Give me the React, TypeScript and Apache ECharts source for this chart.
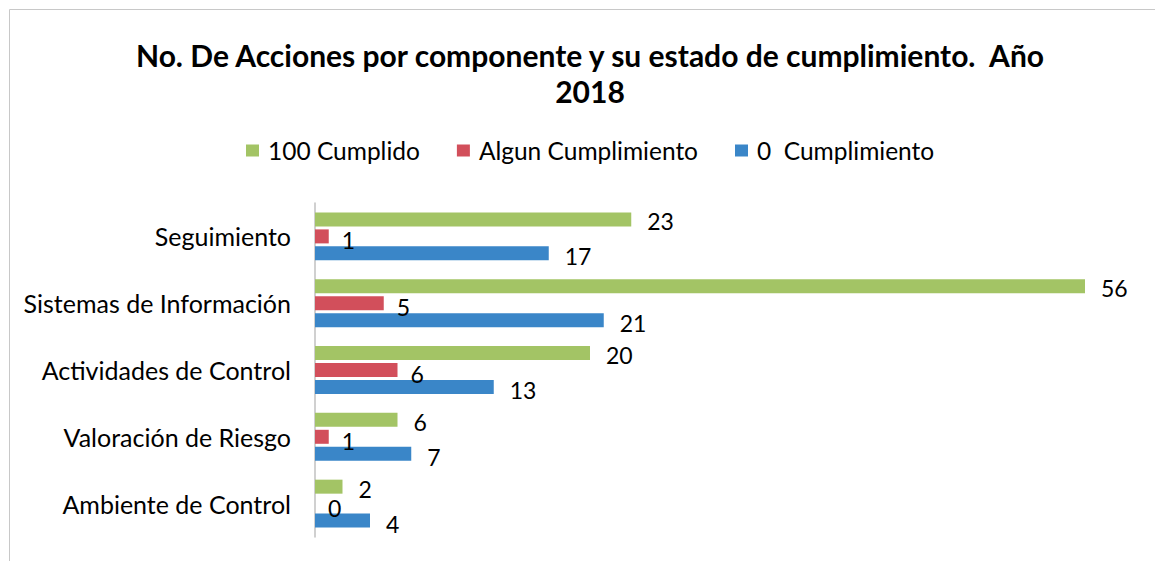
import React, { useEffect, useRef } from "react";
import * as echarts from "echarts";

const categories = [
  "Ambiente de Control",
  "Valoración de Riesgo",
  "Actividades de Control",
  "Sistemas de Información",
  "Seguimiento",
];
const cumplido100 = [2, 6, 20, 56, 23];
const algunCumplimiento = [0, 1, 6, 5, 1];
const ceroCumplimiento = [4, 7, 13, 21, 17];
const seriesNames = ["100 Cumplido", "Algun Cumplimiento", "0  Cumplimiento"];
const titleText = "No. De Acciones por componente y su estado de cumplimiento.  Año\n2018";

const FONT = "Lato, 'Open Sans', sans-serif";

export default function App() {
  const ref = useRef<HTMLDivElement>(null);
  useEffect(() => {
    if (!ref.current) return;
    const chart = echarts.init(ref.current, null, { renderer: "svg" });
    const labelBase = {
      show: true,
      position: "right" as const,
      distance: 16,
      color: "#000",
      fontSize: 23,
      fontFamily: FONT,
    };
    chart.setOption({
      animation: false,
      backgroundColor: "#fff",
      title: {
        text: titleText,
        left: 585,
        textAlign: "center",
        top: 32,
        textStyle: {
          fontFamily: FONT,
          fontSize: 30,
          fontWeight: "bold",
          color: "#000",
          lineHeight: 36,
        },
      },
      legend: {
        data: seriesNames,
        top: 133,
        left: 241,
        icon: "rect",
        itemWidth: 13,
        itemHeight: 12,
        itemGap: 37,
        textStyle: { fontFamily: FONT, fontSize: 24.5, color: "#000", padding: [0, 0, 0, 4] },
      },
      graphic: [
        {
          type: "rect",
          shape: { x: 9.5, y: 9.5, width: 1200, height: 600 },
          style: { fill: "none", stroke: "#c8c8c8", lineWidth: 1 },
          silent: true,
        },
      ],
      grid: { left: 315, top: 203, height: 334, right: 15, containLabel: false },
      xAxis: {
        type: "value",
        min: 0,
        max: 60,
        show: false,
        splitLine: { show: false },
      },
      yAxis: {
        type: "category",
        data: categories,
        axisLine: { show: true, lineStyle: { color: "#c0c0c0", width: 1.5 } },
        axisTick: { show: false },
        axisLabel: {
          fontFamily: FONT,
          fontSize: 25,
          color: "#000",
          margin: 24,
        },
      },
      series: [
        {
          name: seriesNames[0],
          type: "bar",
          data: cumplido100,
          barWidth: 14,
          barGap: "21%",
          barCategoryGap: "28%",
          itemStyle: { color: "#a3c465" },
          label: { ...labelBase, offset: [0, 2] },
        },
        {
          name: seriesNames[1],
          type: "bar",
          data: algunCumplimiento,
          barWidth: 14,
          barGap: "21%",
          itemStyle: { color: "#d24f5b" },
          label: { ...labelBase, distance: 13, offset: [0, 4] },
        },
        {
          name: seriesNames[2],
          type: "bar",
          data: ceroCumplimiento,
          barWidth: 14,
          barGap: "21%",
          itemStyle: { color: "#3a86c8" },
          label: { ...labelBase, offset: [0, 3] },
        },
      ],
    });
    return () => chart.dispose();
  }, []);
  return (
    <div
      ref={ref}
      style={{ position: "absolute", left: 0, top: 0, width: 1155, height: 561 }}
    />
  );
}
